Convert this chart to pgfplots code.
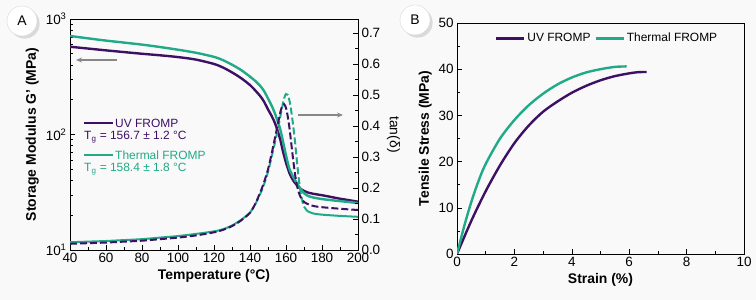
\documentclass[border=0pt]{standalone}
\usepackage{pgfplots}
\pgfplotsset{compat=1.18}
\usepackage{fontspec}
\setmainfont{Liberation Sans}
\usetikzlibrary{shadows,arrows.meta}
\definecolor{uvp}{RGB}{62,16,100}
\definecolor{thg}{RGB}{32,170,135}
\definecolor{bg}{RGB}{249,249,249}
\definecolor{arr}{RGB}{135,135,135}

\pgfplotstableread{
T G
40 575
50 555
60 535
70 517
80 500
90 485
100 468
110 445
120 408
125 380
130 345
135 308
140 268
143 240
146 212
148 190
150 165
152 145
154 124
156 100
157 88
158 75
159 65
160 57
161 51
162 46
164 40
166 36.5
168 34
170 32.5
172 31.5
175 30.7
180 29.8
185 28.8
190 27.8
195 27
200 26.2
}\uvG

\pgfplotstableread{
T G
40 713
50 680
60 650
70 625
80 600
90 572
100 542
110 510
120 470
125 440
130 402
135 362
140 317
143 290
146 260
148 235
150 205
152 178
154 150
156 122
157 108
158 92
159 78
160 66
161 57
162 50
164 43
166 38
168 34
170 31
172 29.5
175 28.5
180 27.6
185 27
190 26.5
195 26
200 25.5
}\thG

\pgfplotstableread{
T d
40 0.020
50 0.022
60 0.024
70 0.027
80 0.030
90 0.035
100 0.040
110 0.047
120 0.057
125 0.065
130 0.077
135 0.095
140 0.120
143 0.150
146 0.190
148 0.222
150 0.260
152 0.310
154 0.365
156 0.420
157 0.448
158 0.465
159 0.470
160 0.458
161 0.430
162 0.390
163 0.340
164 0.290
165 0.245
166 0.210
167 0.188
168 0.172
170 0.155
173 0.146
176 0.141
180 0.138
190 0.133
200 0.129
}\uvD

\pgfplotstableread{
T d
40 0.025
50 0.027
60 0.029
70 0.032
80 0.035
90 0.040
100 0.045
110 0.052
120 0.060
125 0.067
130 0.079
135 0.097
140 0.120
143 0.148
146 0.185
148 0.215
150 0.252
152 0.300
154 0.350
156 0.405
157.5 0.450
159 0.490
160 0.503
161 0.500
162 0.480
163 0.445
164 0.400
165 0.350
166 0.290
167 0.235
168 0.190
169 0.160
170 0.140
172 0.125
175 0.118
180 0.114
190 0.110
200 0.107
}\thD

\pgfplotstableread{
e s
0 0
0.5 7.2
1.0 13.6
1.5 19.2
2.0 24.0
2.5 27.8
3.0 30.8
3.5 33.0
4.0 34.9
4.5 36.4
5.0 37.6
5.5 38.5
6.0 39.1
6.3 39.35
6.61 39.4
}\uvS

\pgfplotstableread{
e s
0 0
0.25 6
0.5 11.3
0.75 15.8
1.0 19.5
1.5 25
2.0 29
2.5 32.2
3.0 34.7
3.5 36.7
4.0 38.2
4.5 39.3
5.0 40.0
5.5 40.5
5.91 40.6
}\thS

\begin{document}
\begin{tikzpicture}
\fill[bg] (0bp,0bp) rectangle (756bp,300bp);
\path[use as bounding box] (0bp,0bp) rectangle (756bp,300bp);
\pgfplotsset{every axis/.append style={
  scale only axis,
  font=\fontsize{13.5}{16}\selectfont,
  label style={font=\fontsize{14}{16}\selectfont\bfseries},
  /pgf/number format/assume math mode=true,
  tick align=inside,
  major tick length=5bp,
  minor tick length=3bp,
  tick style={black, line width=0.6pt},
  axis line style={line width=0.9pt},
}}
% Panel A: storage modulus
\begin{axis}[at={(70bp,50bp)}, anchor=south west, width=288bp, height=231bp,
  xmin=40, xmax=200, ymode=log, ymin=10, ymax=1000,
  xtick={40,60,...,200}, minor xtick={50,70,...,190},
  ytick={10,100,1000}, yticklabels={10\textsuperscript{1},10\textsuperscript{2},10\textsuperscript{3}},
  minor ytick={20,30,40,50,60,70,80,90,200,300,400,500,600,700,800,900},
  xtick pos=left, ytick pos=left,
  xlabel={Temperature (°C)}, ylabel={Storage Modulus G' (MPa)}]
\addplot[uvp, line width=2.4bp, smooth] table[x=T,y=G]{\uvG};
\addplot[thg, line width=2.4bp, smooth] table[x=T,y=G]{\thG};
\end{axis}
% Panel A: tan delta
\begin{axis}[at={(70bp,50bp)}, anchor=south west, width=288bp, height=231bp,
  xmin=40, xmax=200, ymin=0, ymax=0.745,
  axis y line*=right, axis x line=none,
  ytick={0,0.1,...,0.7}, minor ytick={0.05,0.15,...,0.65},
  yticklabel style={/pgf/number format/.cd, fixed, fixed zerofill, precision=1},
  ylabel={\mdseries tan(δ)}, ylabel style={rotate=180}]
\addplot[thg, line width=2bp, smooth, restrict x to domain=40:141] table[x=T,y=d]{\thD};
\addplot[thg, line width=2bp, smooth, dash pattern=on 7bp off 3bp, restrict x to domain=140:173] table[x=T,y=d]{\thD};
\addplot[thg, line width=2bp, smooth, restrict x to domain=172:200] table[x=T,y=d]{\thD};
\addplot[uvp, line width=2bp, smooth, dash pattern=on 7bp off 3bp] table[x=T,y=d]{\uvD};
\end{axis}
% Panel B
\begin{axis}[at={(457bp,46bp)}, anchor=south west, width=287bp, height=231bp,
  xmin=0, xmax=10, ymin=0, ymax=50,
  xtick={0,2,...,10}, minor xtick={1,3,...,9},
  ytick={0,10,...,50}, minor ytick={5,15,...,45},
  xtick pos=left, ytick pos=left,
  xlabel={Strain (\%)}, ylabel={Tensile Stress (MPa)},
  legend columns=2,
  legend style={at={(0.523,0.965)}, anchor=north, draw=none, fill=none,
    font=\fontsize{12}{14}\selectfont, inner sep=0pt,
    /tikz/every even column/.append style={column sep=2bp}},
  legend image code/.code={\draw[#1] (0bp,0bp) -- (28bp,0bp);}]
\addplot[uvp, line width=2.4bp, smooth] table[x=e,y=s]{\uvS};
\addlegendentry{UV FROMP}
\addplot[thg, line width=2.4bp, smooth] table[x=e,y=s]{\thS};
\addlegendentry{Thermal FROMP}
\end{axis}
% legend of panel A
\draw[uvp, line width=2.4bp] (84bp,177bp) -- (113bp,177bp);
\node[anchor=west, text=uvp, inner sep=0pt, font=\fontsize{12}{14}\selectfont] at (115bp,177bp) {UV FROMP};
\node[anchor=west, text=uvp, inner sep=0pt, font=\fontsize{12}{14}\selectfont] at (84bp,163bp) {T\textsubscript{g} = 156.7 ± 1.2 °C};
\draw[thg, line width=2.4bp] (84bp,145bp) -- (113bp,145bp);
\node[anchor=west, text=thg, inner sep=0pt, font=\fontsize{12}{14}\selectfont] at (115bp,145bp) {Thermal FROMP};
\node[anchor=west, text=thg, inner sep=0pt, font=\fontsize{12}{14}\selectfont] at (84bp,131bp) {T\textsubscript{g} = 158.4 ± 1.8 °C};
% arrows
\draw[arr, line width=1.2bp, -{Stealth[length=6bp,width=5bp]}] (117bp,240bp) -- (76bp,240bp);
\draw[arr, line width=1.2bp, -{Stealth[length=6bp,width=5bp]}] (298bp,185bp) -- (343bp,185bp);
% panel letters
\node[circle, draw=black!15, fill=white, minimum size=30bp, inner sep=0pt, drop shadow={opacity=0.25}, font=\fontsize{14}{16}\selectfont] at (22bp,279bp) {A};
\node[circle, draw=black!15, fill=white, minimum size=30bp, inner sep=0pt, drop shadow={opacity=0.25}, font=\fontsize{14}{16}\selectfont] at (415bp,280bp) {B};
\end{tikzpicture}
\end{document}
